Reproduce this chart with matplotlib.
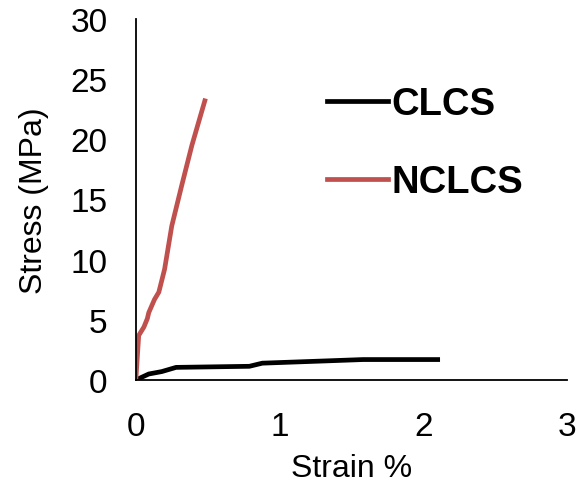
import matplotlib.pyplot as plt
import matplotlib

matplotlib.rcParams['font.family'] = ['Liberation Sans', 'DejaVu Sans']

# strain (%) and stress (MPa)
clcs_strain = [0, 0.09, 0.18, 0.28, 0.79, 0.88, 1.35, 1.58, 2.1]
clcs_stress = [0, 0.5, 0.7, 1.05, 1.14, 1.4, 1.6, 1.7, 1.7]

nclcs_strain = [0, 0.02, 0.056, 0.08, 0.09, 0.13, 0.16, 0.2, 0.25, 0.32, 0.39, 0.48]
nclcs_stress = [0, 3.7, 4.4, 5.1, 5.6, 6.7, 7.3, 9.2, 12.8, 16.2, 19.5, 23.2]

xticks = [0, 1, 2, 3]
yticks = [0, 5, 10, 15, 20, 25, 30]

fig = plt.figure(figsize=(5.78, 4.85), dpi=100)
ax = fig.add_axes([0.235, 0.2144, 0.746, 0.7444])

ax.plot(clcs_strain, clcs_stress, color='black', lw=3.4, label='CLCS')
ax.plot(nclcs_strain, nclcs_stress, color='#C0504D', lw=3.4, label='NCLCS')

ax.set_xlim(0, 3)
ax.set_ylim(0, 30)
ax.set_xticks(xticks)
ax.set_yticks(yticks)
ax.tick_params(length=0, labelsize=24)
ax.tick_params(axis='x', pad=22)
ax.tick_params(axis='y', pad=20.5)
for s in ['top', 'right']:
    ax.spines[s].set_visible(False)
for s in ['left', 'bottom']:
    ax.spines[s].set_linewidth(1.3)

ax.set_xlabel('Strain %', fontsize=23, labelpad=8)
ax.set_ylabel('Stress (MPa)', fontsize=23, labelpad=15)

ax.legend(loc='upper left', bbox_to_anchor=(0.443, 0.814), frameon=False,
          prop={'weight': 'bold', 'size': 27.5}, handlelength=1.6,
          handletextpad=0.08, labelspacing=1.1, borderpad=0, borderaxespad=0)

plt.savefig('out.png', dpi=100)
